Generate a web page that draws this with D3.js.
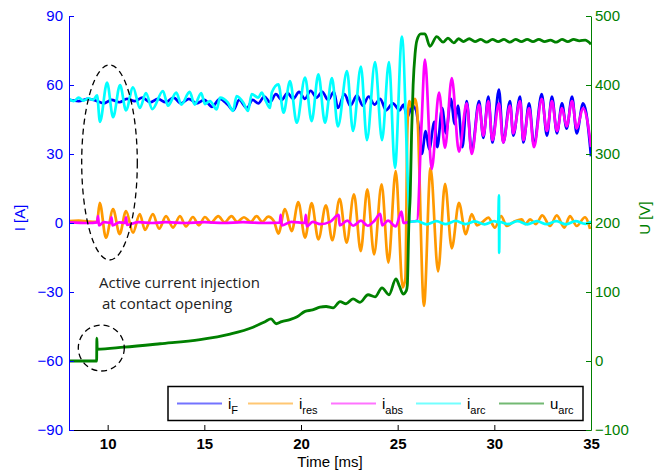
<!DOCTYPE html>
<html>
<head>
	<meta charset="utf-8">
	<script src="https://d3js.org/d3.v7.min.js"></script>
	<title>Arc currents and voltage</title>
	<style>
		body { margin: 0; background: #fff; }
		text { font-family: "Liberation Sans", Arial, sans-serif; }
	</style>
</head>
<body>
	<div id="chart"></div>

	<script type="text/javascript">

		// tick values
		var timeTicks = [10, 15, 20, 25, 30, 35];
		var currentTicks = [-90, -60, -30, 0, 30, 60, 90];
		var voltageTicks = [-100, 0, 100, 200, 300, 400, 500];

		// [time ms, current A]
		var iF = [
			[8.0,53.5],[8.5,53],[9.0,54],[9.45,53],[9.8,52],[10.2,53.5],[10.6,52.5],[11.0,54],[11.4,53],[11.8,54.5],
			[12.2,52.5],[12.6,54],[13.0,52.5],[13.4,54.5],[13.8,52],[14.2,54],[14.6,52],[15.0,53.5],[15.4,50.5],[15.8,54],
			[16.2,51.5],[16.5,49],[16.8,53.5],[17.2,50],[17.5,53.5],[17.8,52],[18.1,55],[18.4,52.5],[18.7,56],[19.0,53.5],
			[19.3,56.5],[19.6,54],[19.9,57],[20.2,54],[20.5,57.5],[20.8,54.5],[21.1,57],[21.4,53.5],[21.7,57],[21.91,50],
			[22.25,56],[22.55,51],[22.9,55.5],[23.2,51],[23.5,55],[23.8,51.5],[24.1,54],[24.4,49],[24.75,52],[25.1,49],
			[25.3,51.5],[25.5,46],[25.75,51],[25.95,49],[26.05,44],[26.25,30],[26.45,40],[26.63,32],[26.9,44],[27.05,33],
			[27.3,50],[27.5,39],[27.75,54],[27.95,43],[28.12,51],[28.35,33],[28.57,53],[28.83,31],[29.21,53],[29.43,37],
			[29.69,55],[29.9,35],[30.24,58],[30.46,35],[30.81,53],[30.98,38],[31.33,55],[31.5,35],[31.8,52],[32.05,34],
			[32.45,56],[32.72,38],[32.98,55],[33.24,39],[33.5,52],[33.74,41],[34.02,55],[34.26,39],[34.59,52],[34.75,48],
			[35.0,29]
		];

		var iRes = [
			[8.0,0.8],[8.5,1],[9.0,0.6],[9.45,0.5],[9.59,8.8],[9.91,-6.4],[10.28,6],[10.62,-4.8],[10.95,5.2],[11.31,-4.2],
			[11.66,3.9],[11.93,-3],[12.34,3.9],[12.66,-2.5],[13.02,3],[13.38,-2],[13.74,3],[14.05,-1.5],[14.41,2.6],[14.72,-1],
			[15.03,2.6],[15.35,0.2],[15.72,3],[16.05,0.3],[16.4,3],[16.7,0.5],[17.05,2.5],[17.4,0.5],[17.7,3],[18.0,0.5],
			[18.3,2.8],[18.6,0.8],[18.83,-4.6],[19.17,6],[19.52,-3.5],[19.86,9.1],[20.21,-6.4],[20.55,8.6],[20.9,-7.1],[21.29,7.7],
			[21.62,-7.5],[22.0,10.5],[22.36,-8.5],[22.74,12.5],[23.09,-12.2],[23.43,14.6],[23.78,-13.6],[24.17,16.8],[24.52,-17.2],[24.9,22.6],
			[25.26,-28],[25.4,-24],[25.5,40],[25.6,53],[25.75,50],[25.9,54],[26.0,50],[26.36,-36],[26.7,24],[27.09,-21],
			[27.45,17],[27.8,-11],[28.17,8.8],[28.52,-4.9],[28.83,3.9],[29.1,-1],[29.4,0.5],[29.69,2.3],[30.03,-2],[30.35,3],
			[30.64,-1.3],[31.0,0.5],[31.42,1.6],[31.6,-0.5],[31.85,1.6],[32.15,-0.5],[32.48,3.3],[32.88,-1.3],[33.23,3.3],[33.62,-2],
			[33.91,3],[34.26,-1.3],[34.69,2.5],[34.95,-2.6]
		];

		var iAbs = [
			[8.0,0.3],[9.0,0],[9.45,0.3],[9.5,3],[9.55,-1],[9.8,0.4],[10.15,0],[10.2,2.5],[10.25,-1],[10.6,0.3],
			[10.9,0],[10.95,2.5],[11.0,-0.8],[11.6,0.4],[12.3,0],[13.0,0.4],[14.0,0],[15.0,0.4],[16.0,0],[17.0,0.4],
			[18.0,0],[18.9,0.2],[18.95,3.5],[19.0,-1],[19.5,0.5],[20.2,0],[20.25,3.5],[20.3,-1.5],[20.6,0.5],[21.0,-0.5],
			[21.5,0.5],[21.95,3.5],[22.0,-1],[22.4,1],[22.7,-1.2],[23.1,1],[23.45,-1.2],[23.8,1],[24.1,4],[24.2,-1],
			[24.5,1],[24.9,-1.5],[25.2,5],[25.3,0],[25.6,0.5],[26.0,1],[26.24,44],[26.41,71],[26.76,23.5],[27.14,56.7],
			[27.45,32.7],[27.8,63],[28.17,31],[28.57,52],[28.83,30],[29.21,51.5],[29.43,38],[29.69,53],[29.9,36],[30.24,52],
			[30.46,35],[30.81,51],[30.98,39],[31.33,53],[31.5,36],[31.8,50],[32.05,33],[32.45,54],[32.72,40],[32.98,53],
			[33.24,40],[33.5,50],[33.74,42],[34.02,53],[34.26,41],[34.59,50],[34.8,45],[35.0,33]
		];

		var iArc = [
			[8.0,54],[8.25,53],[8.5,54.5],[8.75,53.2],[9.0,54.2],[9.25,53.5],[9.45,55.5],[9.6,44],[9.97,61],[10.28,46],
			[10.64,60],[10.95,49],[11.31,59],[11.67,50],[11.98,56.5],[12.31,49.5],[12.86,57.4],[13.12,51],[13.55,56.7],[13.81,51.5],
			[14.24,57],[14.5,51.5],[14.84,56.5],[15.03,51.7],[15.29,53],[15.64,49.4],[15.81,54.5],[16.22,52.3],[16.48,48.7],[16.67,55.2],
			[17.02,52.3],[17.26,48.7],[17.45,56],[17.79,54.5],[17.97,56.7],[18.14,53.8],[18.4,50],[18.49,56.7],[18.83,60.3],[19.1,48],
			[19.43,61.7],[19.78,43.6],[20.21,63.2],[20.55,44.3],[20.9,64.6],[21.24,43.6],[21.6,63],[21.91,42],[22.38,66],[22.69,40],
			[23.1,68],[23.41,36],[23.83,70],[24.19,36],[24.55,70],[24.86,24],[25.22,81],[25.55,12.6],[25.62,0.5],[26.0,0.8],
			[26.5,-0.6],[27.0,0.8],[27.5,-0.5],[28.0,0.9],[28.5,-0.5],[29.0,0.7],[29.5,-0.6],[30.0,0.8],[30.2,0.3],[30.24,12],
			[30.25,-13],[30.27,0.5],[30.7,-0.5],[31.2,0.8],[31.7,-0.6],[32.2,0.8],[32.7,-0.5],[33.2,0.8],[33.7,-0.6],[34.2,0.8],
			[34.7,-0.4],[35.0,0.6]
		];

		// [time ms, voltage V]
		var uArc = [
			[8.0,0],[9.43,0],[9.44,33],[9.46,17],[10.84,20],[12.71,25],[14.78,31],[16.33,39],[17.52,49],[18.14,57],
			[18.45,61],[18.71,54],[19.0,57],[19.43,60],[19.8,64],[20.21,72],[20.6,74],[20.98,78],[21.3,79],[21.66,77],
			[22.02,86],[22.33,83],[22.69,90],[23.05,85],[23.47,96],[23.83,93],[24.19,106],[24.55,96],[24.91,119],[25.1,108],
			[25.28,97],[25.45,102],[25.5,110],[25.58,200],[25.65,240],[25.72,330],[25.8,400],[25.9,445],[26.0,465],[26.2,474],
			[26.41,474],[26.67,456],[27.02,470],[27.35,462],[27.6,468],[27.9,461],[28.15,467],[28.4,463],[28.7,467],[29.0,463],
			[29.3,466],[29.6,462],[29.9,466],[30.2,463],[30.5,466],[30.8,462],[31.1,466],[31.4,463],[31.7,466],[32.0,463],
			[32.3,466],[32.6,463],[32.9,465],[33.2,462],[33.5,466],[33.8,463],[34.1,466],[34.4,464],[34.7,465],[35.0,459]
		];

		var seriesNames = ["F", "res", "abs", "arc", "arc"];
		var seriesLetters = ["i", "i", "i", "i", "u"];
		var seriesColors = ["#0000ff", "#ff9900", "#ff00ff", "#00ffff", "#008000"];

		var svgWidth = 665, svgHeight = 471;
		var plotLeft = 69, plotRight = 591, plotTop = 16, plotBottom = 430;

		var svg = d3.select("#chart").append("svg")
			.attr("width", svgWidth)
			.attr("height", svgHeight);

		var xScale = d3.scaleLinear().domain([8, 35]).range([plotLeft, plotRight]);
		var iScale = d3.scaleLinear().domain([-90, 90]).range([plotBottom, plotTop]);
		var uScale = d3.scaleLinear().domain([-100, 500]).range([plotBottom, plotTop]);

		svg.append("clipPath").attr("id", "plot")
			.append("rect")
			.attr("x", plotLeft).attr("y", plotTop)
			.attr("width", plotRight - plotLeft).attr("height", plotBottom - plotTop);

		// smooth through the read extrema
		var currentLine = d3.line()
			.curve(d3.curveMonotoneX)
			.x(function(d){ return xScale(d[0]); })
			.y(function(d){ return iScale(d[1]); });

		var voltageLine = d3.line()
			.curve(d3.curveMonotoneX)
			.x(function(d){ return xScale(d[0]); })
			.y(function(d){ return uScale(d[1]); });

		var plot = svg.append("g").attr("clip-path", "url(#plot)");

		[iF, iRes, iAbs, iArc].forEach(function(s, k){
			plot.append("path")
				.datum(s)
				.attr("d", currentLine)
				.attr("fill", "none")
				.attr("stroke", seriesColors[k])
				.attr("stroke-width", 2.7)
				.attr("stroke-linejoin", "round");
		});

		plot.append("path")
			.datum(uArc)
			.attr("d", voltageLine)
			.attr("fill", "none")
			.attr("stroke", seriesColors[4])
			.attr("stroke-width", 2.8)
			.attr("stroke-linejoin", "round");

		// annotation ellipses
		svg.append("ellipse")
			.attr("cx", 109.5).attr("cy", 162.5)
			.attr("rx", 27.8).attr("ry", 97.5)
			.attr("fill", "none").attr("stroke", "#000")
			.attr("stroke-width", 1.3).attr("stroke-dasharray", "6,4");

		svg.append("ellipse")
			.attr("cx", 101.3).attr("cy", 348)
			.attr("rx", 23).attr("ry", 23)
			.attr("fill", "none").attr("stroke", "#000")
			.attr("stroke-width", 1.3).attr("stroke-dasharray", "6,4");

		svg.append("text")
			.attr("x", 99).attr("y", 288)
			.style("font-family", "'Open Sans', sans-serif")
			.style("font-size", "15px")
			.attr("fill", "#222")
			.text("Active current injection");

		svg.append("text")
			.attr("x", 102).attr("y", 308.5)
			.style("font-family", "'Open Sans', sans-serif")
			.style("font-size", "15px")
			.attr("fill", "#222")
			.text("at contact opening");

		// axes
		var xAxis = svg.append("g")
			.attr("transform", "translate(0," + plotBottom + ")")
			.call(d3.axisBottom(xScale).tickValues(timeTicks).tickSize(-5).tickSizeOuter(0).tickPadding(8));
		xAxis.selectAll("path, line").attr("stroke", "#000");
		xAxis.selectAll("text").attr("fill", "#000").style("font-size", "15px").style("font-weight", "bold");

		var iAxis = svg.append("g")
			.attr("transform", "translate(" + plotLeft + ",0)")
			.call(d3.axisLeft(iScale).tickValues(currentTicks).tickSize(-5).tickSizeOuter(0).tickPadding(6));
		iAxis.selectAll("path, line").attr("stroke", "#0000ff");
		iAxis.selectAll("text").attr("fill", "#0000ff").style("font-size", "15px");

		var uAxis = svg.append("g")
			.attr("transform", "translate(" + plotRight + ",0)")
			.call(d3.axisRight(uScale).tickValues(voltageTicks).tickSize(-5).tickSizeOuter(0).tickPadding(4));
		uAxis.selectAll("path, line").attr("stroke", "#008000");
		uAxis.selectAll("text").attr("fill", "#008000").style("font-size", "15px");

		svg.append("text")
			.attr("transform", "translate(25,218) rotate(-90)")
			.attr("text-anchor", "middle")
			.attr("fill", "#0000ff")
			.style("font-size", "15px")
			.text("I [A]");

		svg.append("text")
			.attr("transform", "translate(650,218) rotate(-90)")
			.attr("text-anchor", "middle")
			.attr("fill", "#008000")
			.style("font-size", "15px")
			.text("U [V]");

		svg.append("text")
			.attr("x", 330).attr("y", 467)
			.attr("text-anchor", "middle")
			.attr("fill", "#000")
			.style("font-size", "15px")
			.text("Time [ms]");

		// legend
		var legendX = [177, 248, 331, 416, 499];
		var legend = svg.append("g");
		legend.append("rect")
			.attr("x", 168).attr("y", 386.5)
			.attr("width", 415).attr("height", 34)
			.attr("fill", "#fff").attr("stroke", "#000").attr("stroke-width", 1.5);

		legend.selectAll(".key")
			.data(seriesColors).enter().append("line")
			.attr("class", "key")
			.attr("x1", function(d, i){ return legendX[i]; })
			.attr("x2", function(d, i){ return legendX[i] + 45; })
			.attr("y1", 403.5).attr("y2", 403.5)
			.attr("stroke", function(d){ return d; })
			.attr("stroke-opacity", 0.55)
			.attr("stroke-width", 2);

		var labels = legend.selectAll(".lab")
			.data(seriesNames).enter().append("text")
			.attr("class", "lab")
			.attr("x", function(d, i){ return legendX[i] + 51; })
			.attr("y", 409)
			.attr("fill", "#000")
			.style("font-size", "15px");
		labels.append("tspan").text(function(d, i){ return seriesLetters[i]; });
		labels.append("tspan")
			.attr("dy", 5)
			.style("font-size", "11px")
			.text(function(d){ return d; });

	</script>
</body>
</html>
